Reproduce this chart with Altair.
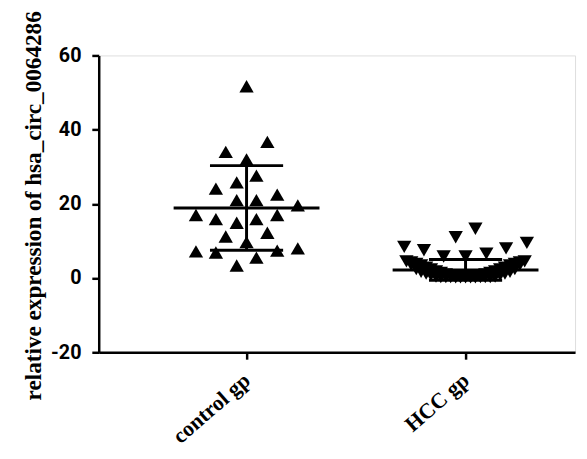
import altair as alt
import pandas as pd

# ---- data ----
groups = ["control gp", "HCC gp"]
group_pos = [1, 2]

control_values = [51.7, 36.7, 34.0, 32.0, 27.6, 25.8, 24.1, 22.5, 21.0, 21.0,
                  19.6, 17.0, 15.9, 17.0, 15.9, 14.9, 12.2, 11.2, 9.7, 7.2,
                  6.9, 7.4, 8.0, 5.5, 3.4]
control_jitter = [0.0, 0.095, -0.095, 0.0, 0.045, -0.045, -0.14, 0.14, -0.045, 0.045,
                  0.234, -0.231, -0.14, 0.14, 0.045, -0.045, 0.095, -0.095, 0.0, -0.231,
                  -0.14, 0.14, 0.234, 0.045, -0.045]

hcc_values = [8.4, 7.5, 11.0, 13.3, 5.8, 5.8, 6.6, 8.0, 9.5,
              0.5, 0.2,
              0.5, 0.2, 0.5, 0.2,
              0.6, 0.2, 0.6, 0.2,
              0.8, 0.3, 0.8, 0.3,
              1.0, 0.3, 1.0, 0.3,
              1.4, 0.7, 0.3, 1.4, 0.7, 0.3,
              1.8, 1.1, 0.4, 1.8, 1.1, 0.4,
              2.3, 1.5, 0.8, 2.3, 1.5, 0.8,
              2.8, 2.0, 1.2, 2.8, 2.0, 1.2,
              3.4, 2.5, 1.7, 3.4, 2.5, 1.7,
              3.8, 3.0, 2.4, 3.8, 3.0, 2.4,
              4.2, 3.6, 4.2, 3.6,
              4.5, 4.5]
hcc_jitter = [-0.28, -0.19, -0.045, 0.045, -0.1, 0.0, 0.095, 0.185, 0.28,
              0.0, 0.0,
              -0.023, -0.023, 0.023, 0.023,
              -0.045, -0.045, 0.045, 0.045,
              -0.068, -0.068, 0.068, 0.068,
              -0.09, -0.09, 0.09, 0.09,
              -0.113, -0.113, -0.113, 0.113, 0.113, 0.113,
              -0.135, -0.135, -0.135, 0.135, 0.135, 0.135,
              -0.158, -0.158, -0.158, 0.158, 0.158, 0.158,
              -0.18, -0.18, -0.18, 0.18, 0.18, 0.18,
              -0.203, -0.203, -0.203, 0.203, 0.203, 0.203,
              -0.225, -0.225, -0.225, 0.225, 0.225, 0.225,
              -0.248, -0.248, 0.248, 0.248,
              -0.27, 0.27]

means = [18.9, 2.2]
sds = [11.4, 2.8]

y_ticks = [-20, 0, 20, 40, 60]
y_title = "relative expression of hsa_circ_0064286"

# ---- build tables ----
pts = pd.DataFrame({
    "group": [groups[0]] * len(control_values) + [groups[1]] * len(hcc_values),
    "value": control_values + hcc_values,
    "x": [group_pos[0] + j for j in control_jitter] + [group_pos[1] + j for j in hcc_jitter],
})

MEAN_HALF = 0.333
CAP_HALF = 0.167
stats = pd.DataFrame({
    "group": groups,
    "pos": group_pos,
    "mean": means,
    "lo": [m - s for m, s in zip(means, sds)],
    "hi": [m + s for m, s in zip(means, sds)],
})
stats["mx1"] = stats["pos"] - MEAN_HALF
stats["mx2"] = stats["pos"] + MEAN_HALF
stats["cx1"] = stats["pos"] - CAP_HALF
stats["cx2"] = stats["pos"] + CAP_HALF

label_expr = "datum.value == 1 ? '" + groups[0] + "' : '" + groups[1] + "'"

x_scale = alt.Scale(domain=[0.325, 2.5], nice=False, zero=False)
y_scale = alt.Scale(domain=[-20, 60], nice=False, zero=False)

x_axis = alt.Axis(values=group_pos, labelExpr=label_expr, title=None, grid=False,
                  labelFont="Liberation Serif", labelFontWeight="bold", labelFontSize=22,
                  labelAngle=-41, labelAlign="right", labelBaseline="middle",
                  labelPadding=18, tickSize=7, tickWidth=2.5, domainWidth=2.5,
                  domainColor="black", tickColor="black", labelColor="black")
y_axis = alt.Axis(values=y_ticks, title=y_title, grid=False,
                  labelExpr="'' + datum.value",
                  labelFont="Roboto", labelFontWeight="bold", labelFontSize=20,
                  labelPadding=11, tickSize=7, tickWidth=2.5, domainWidth=2.5,
                  domainColor="black", tickColor="black", labelColor="black",
                  titleFont="Liberation Serif", titleFontWeight="bold", titleFontSize=23.5,
                  titleColor="black", titleAngle=-90, titleX=-66, titleY=152,
                  titleAlign="center", titleBaseline="middle")

base_pts = alt.Chart(pts)
up = base_pts.transform_filter(alt.datum.group == groups[0]).mark_point(
    shape="triangle-up", filled=True, color="black", size=210, opacity=1
).encode(
    x=alt.X("x:Q", scale=x_scale, axis=x_axis),
    y=alt.Y("value:Q", scale=y_scale, axis=y_axis),
)
down = base_pts.transform_filter(alt.datum.group == groups[1]).mark_point(
    shape="triangle-down", filled=True, color="black", size=210, opacity=1
).encode(
    x=alt.X("x:Q", scale=x_scale),
    y=alt.Y("value:Q", scale=y_scale),
)

sbase = alt.Chart(stats)
mean_rule = sbase.mark_rule(color="black", strokeWidth=3).encode(
    x=alt.X("mx1:Q", scale=x_scale), x2="mx2:Q", y=alt.Y("mean:Q", scale=y_scale))
sd_rule = sbase.mark_rule(color="black", strokeWidth=3).encode(
    x=alt.X("pos:Q", scale=x_scale), y=alt.Y("lo:Q", scale=y_scale), y2="hi:Q")
cap_hi = sbase.mark_rule(color="black", strokeWidth=3).encode(
    x=alt.X("cx1:Q", scale=x_scale), x2="cx2:Q", y=alt.Y("hi:Q", scale=y_scale))
cap_lo = sbase.mark_rule(color="black", strokeWidth=3).encode(
    x=alt.X("cx1:Q", scale=x_scale), x2="cx2:Q", y=alt.Y("lo:Q", scale=y_scale))

chart = alt.layer(up, down, mean_rule, sd_rule, cap_hi, cap_lo).properties(
    width=483, height=301,
    autosize=alt.AutoSizeParams(type="none"),
    padding={"left": 92, "top": 45, "right": 4, "bottom": 97},
).configure_view(stroke=None).configure(background="white")

chart.save("out.html", embed_options={"renderer": "svg", "actions": False})
